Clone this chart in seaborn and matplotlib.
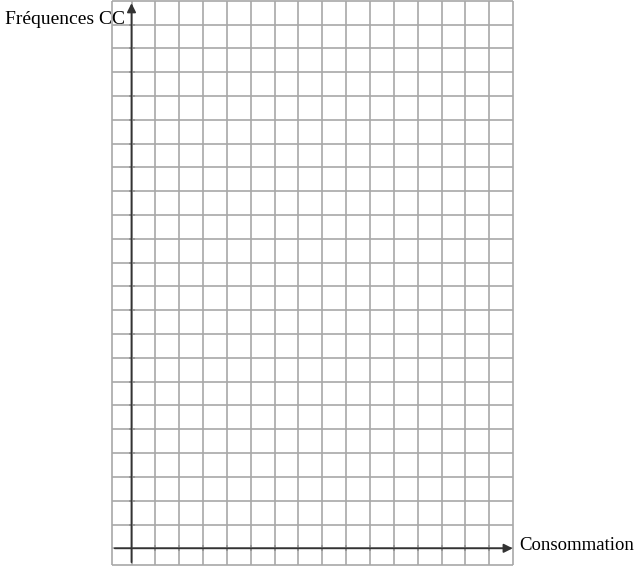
import matplotlib
matplotlib.use("Agg")
import matplotlib.pyplot as plt
import seaborn as sns

# grid cells (axis at 0)
x_cells = list(range(-1, 17))
y_cells = list(range(-1, 24))
x_label = "Consommation"
y_label = "Fréquences CC"

sns.set_theme(style="white")
plt.rcParams['font.family'] = ['Liberation Serif', 'DejaVu Serif']

fig = plt.figure(figsize=(6.4, 5.69), dpi=100)
ax = fig.add_axes([0, 0, 1, 1])
ax.set_xlim(-131.5 / 23.85, (640 - 131.5) / 23.85)
ax.set_ylim((548.3 - 569) / 23.8, 548.3 / 23.8)
ax.axis('off')

x0, x1 = -0.82, 16.0
y0, y1 = -0.70, 23.0
grid_col = '#a8a8a8'
vx = [v for v in x_cells if v >= 0] + [x0]
hy = [v for v in y_cells if v >= 0] + [y0]
ax.vlines(vx, y0, y1, color=grid_col, lw=1.2)
ax.hlines(hy, x0, x1, color=grid_col, lw=1.2)

# axes with arrows
ax.annotate("", xy=(16.1, 0), xytext=(x0, 0),
            arrowprops=dict(arrowstyle="-|>", color='#333333', lw=1.3, mutation_scale=13))
ax.annotate("", xy=(0, 23.02), xytext=(0, y0),
            arrowprops=dict(arrowstyle="-|>", color='#333333', lw=1.3, mutation_scale=13))

# small ticks on axes
sns.scatterplot(x=[v for v in x_cells if 0 < v < 16], y=[0] * 15, marker='|',
                s=20, color='#333333', linewidth=1.2, ax=ax, legend=False)
sns.scatterplot(x=[0] * 22, y=[v for v in y_cells if 0 < v < 23], marker='_',
                s=20, color='#333333', linewidth=1.2, ax=ax, legend=False)

ax.text(5 / 23.85 - 131.5 / 23.85, (548.3 - 19) / 23.8, y_label, fontsize=14,
        color='black', ha='left', va='center')
ax.text((519 - 131.5) / 23.85, (548.3 - 546) / 23.8, x_label, fontsize=13.5,
        color='black', ha='left', va='center')

fig.savefig('out.png', dpi=100)
